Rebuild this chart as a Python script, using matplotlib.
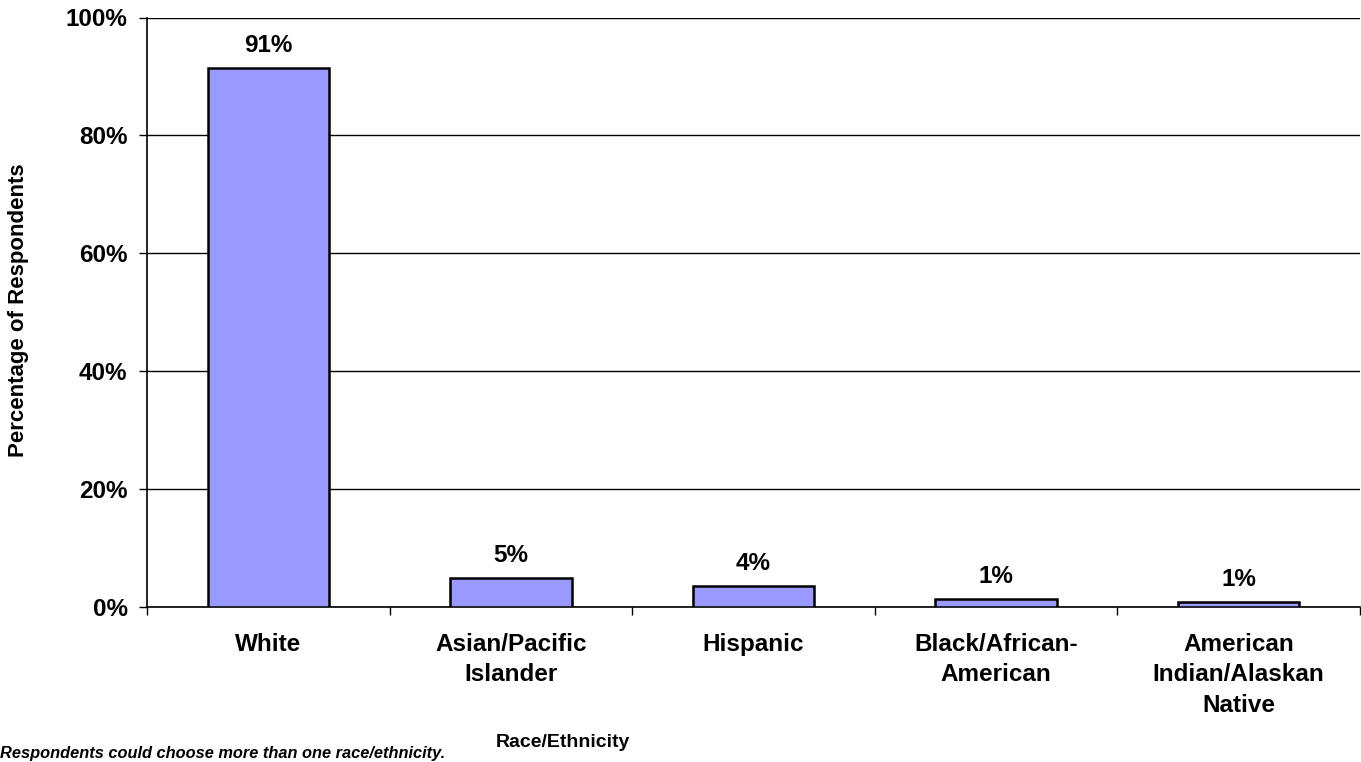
import numpy as np
import matplotlib
matplotlib.use('Agg')
import matplotlib.pyplot as plt
from matplotlib.ticker import FuncFormatter

plt.rcParams['font.family'] = ['Liberation Sans', 'DejaVu Sans']

categories = ['White', 'Asian/Pacific\nIslander', 'Hispanic',
              'Black/African-\nAmerican', 'American\nIndian/Alaskan\nNative']
pct = [91.4, 4.9, 3.5, 1.3, 0.8]
y_ticks = [0, 20, 40, 60, 80, 100]

fig = plt.figure(figsize=(13.61, 7.62), dpi=100)
ax = fig.add_axes([147 / 1361, 1 - 606.5 / 762, 1213 / 1361, 589 / 762])

x = np.arange(len(categories))
bars = ax.bar(x, pct, width=0.5, color='#9999FF', edgecolor='black', linewidth=1.8, zorder=3)

for bar, v in zip(bars, pct):
    ax.annotate(f'{v:.0f}%', (bar.get_x() + bar.get_width() / 2, v),
                xytext=(0, 11.5), textcoords='offset points',
                ha='center', va='baseline', fontsize=17.5, fontweight='bold')

ax.set_xlim(-0.5, len(categories) - 0.5)
ax.set_ylim(0, 100)
ax.set_yticks(y_ticks)
ax.yaxis.set_major_formatter(FuncFormatter(lambda v, _: f'{v:.0f}%'))
ax.grid(axis='y', color='black', linewidth=1.0, zorder=0)

# boundary ticks below the axis, category names on minor ticks at bar centres
ax.set_xticks(np.arange(len(categories) + 1) - 0.5)
ax.set_xticklabels([])
ax.set_xticks(x, minor=True)
ax.set_xticklabels(categories, minor=True, fontsize=17.5, fontweight='bold', linespacing=1.42)
ax.tick_params(axis='x', which='major', length=6, width=1.0, direction='out')
ax.tick_params(axis='x', which='minor', length=0, pad=19)
ax.tick_params(axis='y', length=6, width=1.0, pad=8, labelsize=17.5)
for lab in ax.get_yticklabels():
    lab.set_fontweight('bold')

for s in ['top', 'right']:
    ax.spines[s].set_visible(False)
for s in ['left', 'bottom']:
    ax.spines[s].set_linewidth(1.2)

fig.text(19 / 1361, 1 - 310 / 762, 'Percentage of Respondents', rotation=90,
         ha='center', va='center', fontsize=16, fontweight='bold')
fig.text(563 / 1361, 1 - 747 / 762, 'Race/Ethnicity', ha='center', va='baseline',
         fontsize=14, fontweight='bold')
fig.text(0.0, 1 - 758 / 762, 'Respondents could choose more than one race/ethnicity.',
         ha='left', va='baseline', fontsize=11.8, fontweight='bold', style='italic')

fig.savefig('out.png', dpi=100)
